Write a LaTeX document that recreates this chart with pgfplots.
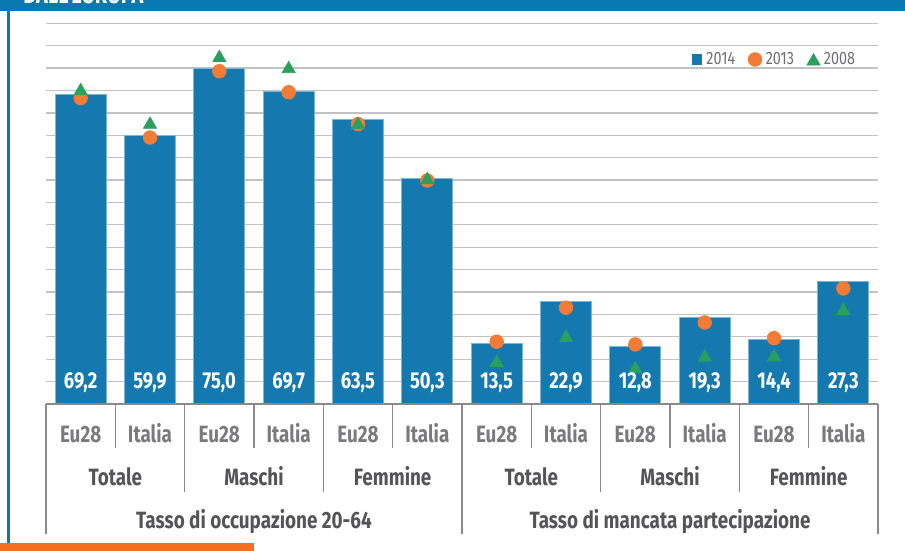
\documentclass[border=0pt]{standalone}
\usepackage{fontspec}
\setmainfont{Fira Sans}[FakeStretch=0.8]
\usepackage{pgfplots}
\pgfplotsset{compat=1.18}
\definecolor{barblue}{HTML}{1579AF}
\definecolor{headblue}{HTML}{0A78B0}
\definecolor{dotorange}{HTML}{F27B35}
\definecolor{trigreen}{HTML}{2BA05E}
\definecolor{orangebar}{HTML}{F37021}
\definecolor{gridgray}{HTML}{C2C2C2}
\definecolor{sepgray}{HTML}{8A8A8A}
\definecolor{lvlone}{HTML}{7A7A7C}
\definecolor{lvltwo}{HTML}{555557}
\definecolor{leggray}{HTML}{6D6E71}

\pgfplotsset{
  markleg/.style={legend image code/.code={%
    \draw[mark repeat=2,mark phase=2,##1] plot coordinates {(0pt,0pt)(3.5pt,0pt)(7pt,0pt)};}},
  barleg/.style={legend image code/.code={%
    \fill[barblue] (0.6pt,-2.4pt) rectangle (5.4pt,2.4pt);}},
}

\begin{document}
\begin{tikzpicture}
\useasboundingbox (0pt,0pt) rectangle (452.5pt,275.5pt);
% frame of the page
\fill[headblue] (0pt,270pt) rectangle (452.5pt,275.5pt);
\begin{scope}
  \clip (0pt,270pt) rectangle (452.5pt,275.5pt);
  \node[anchor=base west, inner sep=0pt, text=white,
        font=\bfseries\fontsize{12.5}{14}\selectfont] at (11.5pt,273.5pt) {DALL'EUROPA};
\end{scope}
\fill[headblue] (3.65pt,4pt) rectangle (5pt,270pt);
\fill[orangebar] (0pt,0pt) rectangle (127pt,3.85pt);

\begin{axis}[
  at={(23pt,73.5pt)}, anchor=south west,
  scale only axis, width=416pt, height=190.35pt,
  xmin=-0.5, xmax=11.5, ymin=0, ymax=85,
  axis line style={draw=none},
  ytick={0,5,...,85}, yticklabels={}, xtick=\empty,
  major tick length=0pt,
  ymajorgrids, grid style={color=gridgray, line width=0.65pt},
  clip=false,
  legend style={at={(0.985,0.905)}, anchor=east, draw=none, fill=none,
    legend columns=3, font=\fontsize{9}{10}\selectfont, text=leggray,
    /tikz/every even column/.append style={column sep=4.5pt}},
  legend cell align=left,
]
% 2014
\addplot[ybar, bar width=25.5pt, fill=barblue, draw=barblue!55!white, line width=0.5pt, barleg]
  coordinates {(0,69.2)(1,59.9)(2,75.0)(3,69.7)(4,63.5)(5,50.3)
               (6,13.5)(7,22.9)(8,12.8)(9,19.3)(10,14.4)(11,27.3)};
% 2013
\addplot[only marks, mark=*, mark size=3.4pt, color=dotorange, markleg]
  coordinates {(0,68.3)(1,59.5)(2,74.3)(3,69.6)(4,62.5)(5,49.9)
               (6,13.9)(7,21.5)(8,13.3)(9,18.2)(10,14.7)(11,25.8)};
% 2008
\addplot[only marks, mark=triangle*, mark size=3.75pt, color=trigreen,
  mark options={yshift=-0.9pt}, markleg]
  coordinates {(0,70.3)(1,62.8)(2,77.7)(3,75.2)(4,62.7)(5,50.4)
               (6,9.6)(7,15.2)(8,8.2)(9,10.8)(10,10.9)(11,21.2)};
% value labels inside the bars
\addplot[forget plot, draw=none, mark=none, nodes near coords, point meta=explicit,
  every node near coord/.append style={anchor=base, inner sep=0pt, text=white,
    font=\bfseries\fontsize{11.5}{13}\selectfont,
    /pgf/number format/assume math mode=true, /pgf/number format/use comma,
    /pgf/number format/fixed, /pgf/number format/fixed zerofill,
    /pgf/number format/precision=1}]
  coordinates {(0,3.35)[69.2](1,3.35)[59.9](2,3.35)[75.0](3,3.35)[69.7](4,3.35)[63.5](5,3.35)[50.3]
               (6,3.35)[13.5](7,3.35)[22.9](8,3.35)[12.8](9,3.35)[19.3](10,3.35)[14.4](11,3.35)[27.3]};
\legend{2014, 2013, 2008}

% category table under the axis
\draw[sepgray, line width=1pt] (axis cs:-0.5,0) -- (axis cs:11.5,0);
\draw[sepgray, line width=0.75pt]
  (axis cs:-0.5,0) -- (axis cs:-0.5,-29)
  (axis cs:5.5,0) -- (axis cs:5.5,-29)
  (axis cs:11.5,0) -- (axis cs:11.5,-29)
  (axis cs:1.5,0) -- (axis cs:1.5,-19.6)
  (axis cs:3.5,0) -- (axis cs:3.5,-19.6)
  (axis cs:7.5,0) -- (axis cs:7.5,-19.6)
  (axis cs:9.5,0) -- (axis cs:9.5,-19.6)
  (axis cs:0.5,0) -- (axis cs:0.5,-9.8)
  (axis cs:2.5,0) -- (axis cs:2.5,-9.8)
  (axis cs:4.5,0) -- (axis cs:4.5,-9.8)
  (axis cs:6.5,0) -- (axis cs:6.5,-9.8)
  (axis cs:8.5,0) -- (axis cs:8.5,-9.8)
  (axis cs:10.5,0) -- (axis cs:10.5,-9.8);
\tikzset{lvA/.style={anchor=base, inner sep=0pt, text=lvlone, font=\bfseries\fontsize{11.8}{13}\selectfont},
         lvB/.style={anchor=base, inner sep=0pt, text=lvltwo, font=\bfseries\fontsize{11.8}{13}\selectfont}}
\node[lvA] at (axis cs:0,-8.5) {Eu28};
\node[lvA] at (axis cs:1,-8.5) {Italia};
\node[lvA] at (axis cs:2,-8.5) {Eu28};
\node[lvA] at (axis cs:3,-8.5) {Italia};
\node[lvA] at (axis cs:4,-8.5) {Eu28};
\node[lvA] at (axis cs:5,-8.5) {Italia};
\node[lvA] at (axis cs:6,-8.5) {Eu28};
\node[lvA] at (axis cs:7,-8.5) {Italia};
\node[lvA] at (axis cs:8,-8.5) {Eu28};
\node[lvA] at (axis cs:9,-8.5) {Italia};
\node[lvA] at (axis cs:10,-8.5) {Eu28};
\node[lvA] at (axis cs:11,-8.5) {Italia};
\node[lvB] at (axis cs:0.5,-18.3) {Totale};
\node[lvB] at (axis cs:2.5,-18.3) {Maschi};
\node[lvB] at (axis cs:4.5,-18.3) {Femmine};
\node[lvB] at (axis cs:6.5,-18.3) {Totale};
\node[lvB] at (axis cs:8.5,-18.3) {Maschi};
\node[lvB] at (axis cs:10.5,-18.3) {Femmine};
\node[lvB] at (axis cs:2.5,-27.75) {Tasso di occupazione 20-64};
\node[lvB] at (axis cs:8.5,-27.75) {Tasso di mancata partecipazione};
\end{axis}
\end{tikzpicture}
\end{document}
